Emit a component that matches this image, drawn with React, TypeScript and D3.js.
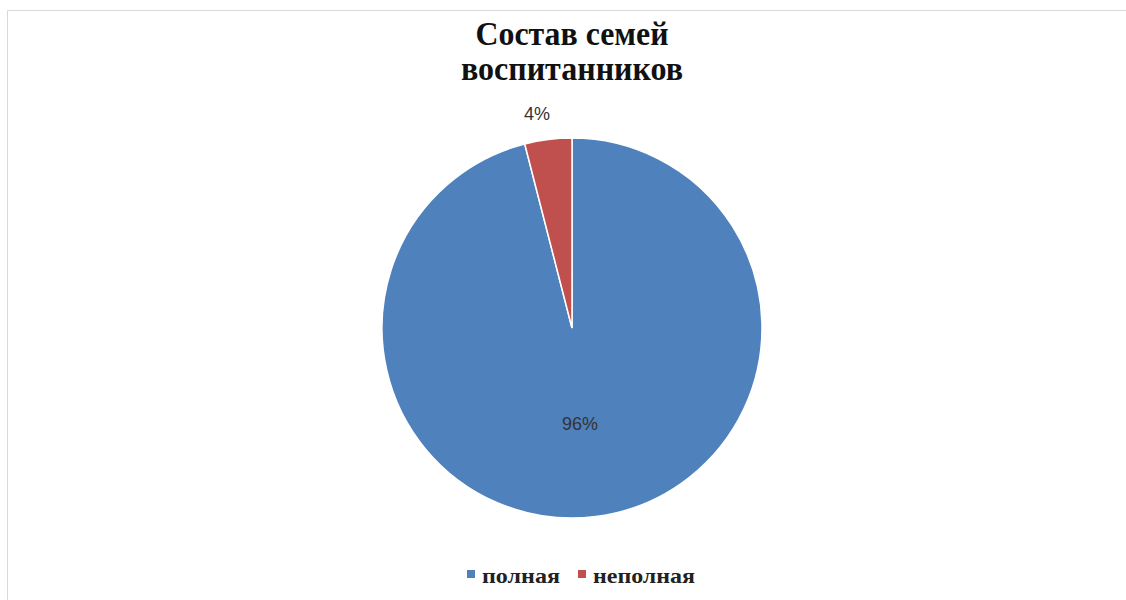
import React from "react";
import * as d3 from "d3";

const categories = ["полная", "неполная"];
const values = [96, 4];
const labels = ["96%", "4%"];
const colors = ["#4F81BD", "#C0504D"];
const titleLines = ["Состав семей", "воспитанников"];

export default function App() {
  const W = 1126, H = 600;
  const cx = 572, cy = 328, r = 190;
  const total = d3.sum(values);
  const pie = d3.pie<number>().sort(null).startAngle(0).endAngle(2 * Math.PI);
  const arcs = pie(values);
  const arcGen = d3.arc<any>().innerRadius(0).outerRadius(r);
  const labelPos = [
    [580, 425],
    [537, 115],
  ];
  const legendX = [467, 578];
  const legendLen = [78, 102];
  return (
    <svg width={W} height={H} style={{ position: "absolute", left: 0, top: 0 }}>
      <rect x={0} y={0} width={W} height={H} fill="#fff" />
      <line x1={7.5} y1={10.5} x2={W} y2={10.5} stroke="#d9d9d9" />
      <line x1={7.5} y1={10.5} x2={7.5} y2={H} stroke="#d9d9d9" />
      <g fontFamily="'Liberation Serif', serif" fontWeight="bold" fontSize={33} textAnchor="middle" fill="#111">
        {titleLines.map((t, i) => (
          <text key={i} x={cx} y={45 + i * 35} textLength={i === 0 ? 193 : 222} lengthAdjust="spacingAndGlyphs">{t}</text>
        ))}
      </g>
      <g transform={`translate(${cx},${cy})`}>
        {arcs.map((a, i) => (
          <path key={i} d={arcGen(a) as string} fill={colors[i]} stroke="#fff" strokeWidth={1.5} />
        ))}
      </g>
      <g fontFamily="'Liberation Sans', Arial, sans-serif" fontSize={18} fill="#333" textAnchor="middle">
        {labels.map((l, i) => (
          <text key={i} x={labelPos[i][0]} y={labelPos[i][1]} dominantBaseline="middle">{l}</text>
        ))}
      </g>
      <g fontFamily="'Liberation Serif', serif" fontWeight="bold" fontSize={21} fill="#222">
        {categories.map((c, i) => (
          <g key={c}>
            <rect x={legendX[i]} y={570} width={8} height={8} fill={colors[i]} />
            <text x={legendX[i] + 15} y={583} textLength={legendLen[i]} lengthAdjust="spacingAndGlyphs">{c}</text>
          </g>
        ))}
      </g>
    </svg>
  );
}
